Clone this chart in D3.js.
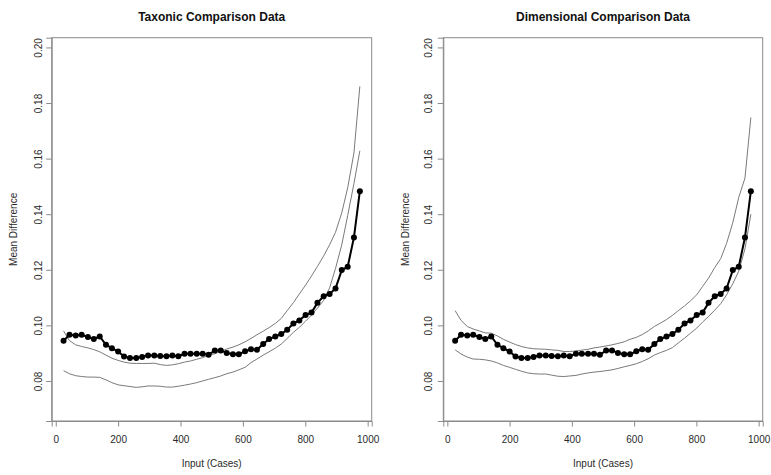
<!DOCTYPE html>
<html>
<head>
<meta charset="utf-8">
<script src="https://cdn.jsdelivr.net/npm/d3@7"></script>
<style>
  html, body { margin: 0; padding: 0; background: #fff; }
  svg { display: block; font-family: "Liberation Sans", Arial, Helvetica, sans-serif; }
</style>
</head>
<body>
<svg id="chart" width="771" height="475"></svg>
<script>
// ---- data ----
const xCases = [25,44,64,83,103,122,141,161,180,200,219,238,258,277,296,316,335,355,374,393,413,432,452,471,490,510,529,548,568,587,607,626,645,665,684,704,723,742,762,781,801,820,839,859,878,897,917,936,956,975];

const meanDiff = [0.0945,0.0966,0.0964,0.0966,0.0958,0.0951,0.0960,0.0930,0.0918,0.0906,0.0888,0.0883,0.0883,0.0886,0.0892,0.0892,0.0890,0.0889,0.0892,0.0889,0.0898,0.0898,0.0898,0.0898,0.0894,0.0910,0.0910,0.0901,0.0896,0.0896,0.0907,0.0914,0.0912,0.0933,0.0951,0.0960,0.0969,0.0984,0.1007,0.1018,0.1037,0.1046,0.1081,0.1105,0.1113,0.1133,0.1199,0.1211,0.1316,0.1483];

const taxonicUpper = [0.0980,0.0945,0.0930,0.0924,0.0919,0.0913,0.0905,0.0893,0.0882,0.0874,0.0868,0.0864,0.0863,0.0863,0.0863,0.0864,0.0859,0.0856,0.0858,0.0862,0.0868,0.0872,0.0878,0.0884,0.0892,0.0898,0.0906,0.0915,0.0922,0.0930,0.0941,0.0953,0.0966,0.0979,0.0992,0.1007,0.1025,0.1053,0.1082,0.1113,0.1145,0.1178,0.1212,0.1250,0.1290,0.1335,0.1405,0.1495,0.1620,0.1860];

const taxonicLower = [0.0837,0.0826,0.0819,0.0816,0.0814,0.0814,0.0813,0.0804,0.0794,0.0786,0.0783,0.0780,0.0777,0.0779,0.0782,0.0782,0.0781,0.0778,0.0778,0.0781,0.0785,0.0789,0.0794,0.0800,0.0806,0.0812,0.0818,0.0826,0.0832,0.0840,0.0849,0.0866,0.0879,0.0893,0.0905,0.0918,0.0933,0.0953,0.0975,0.0993,0.1015,0.1037,0.1062,0.1090,0.1135,0.1205,0.1290,0.1395,0.1510,0.1628];

const dimensionalUpper = [0.1053,0.1018,0.0996,0.0987,0.0980,0.0973,0.0972,0.0962,0.0950,0.0940,0.0931,0.0924,0.0919,0.0916,0.0915,0.0914,0.0912,0.0910,0.0906,0.0906,0.0908,0.0911,0.0914,0.0919,0.0922,0.0926,0.0930,0.0935,0.0941,0.0950,0.0957,0.0967,0.0980,0.0996,0.1008,0.1021,0.1036,0.1053,0.1070,0.1088,0.1110,0.1140,0.1170,0.1208,0.1240,0.1295,0.1370,0.1460,0.1530,0.1748];

const dimensionalLower = [0.0912,0.0897,0.0886,0.0879,0.0878,0.0876,0.0872,0.0865,0.0856,0.0849,0.0842,0.0835,0.0829,0.0826,0.0825,0.0825,0.0821,0.0817,0.0816,0.0818,0.0820,0.0825,0.0829,0.0832,0.0834,0.0837,0.0840,0.0845,0.0851,0.0856,0.0862,0.0870,0.0880,0.0893,0.0902,0.0910,0.0920,0.0937,0.0954,0.0972,0.0990,0.1012,0.1032,0.1055,0.1078,0.1110,0.1150,0.1195,0.1275,0.1400];

const xTicks = [0,200,400,600,800,1000];
const yTicks = [0.08,0.10,0.12,0.14,0.16,0.18,0.20];
const panelTitles = ["Taxonic Comparison Data","Dimensional Comparison Data"];
const xLabel = "Input (Cases)";
const yLabel = "Mean Difference";

// ---- layout ----
const panels = [
  { title: panelTitles[0], left: 51.7, right: 371.7, labOff: 9.5, upper: taxonicUpper, lower: taxonicLower },
  { title: panelTitles[1], left: 443.3, right: 762.7, labOff: 11.5, upper: dimensionalUpper, lower: dimensionalLower }
];
const plotTop = 37.7, plotBottom = 421;
const xDomain = [-13, 1013];
const yDomain = [0.0656, 0.2035];

const svg = d3.select("#chart");
const boxColor = "#8a8a8a";
const textColor = "#2a2a2a";

panels.forEach(p => {
  const x = d3.scaleLinear().domain(xDomain).range([p.left, p.right]);
  const y = d3.scaleLinear().domain(yDomain).range([plotBottom, plotTop]);
  const g = svg.append("g");

  // box
  g.append("rect")
    .attr("x", p.left).attr("y", plotTop)
    .attr("width", p.right - p.left).attr("height", plotBottom - plotTop)
    .attr("fill", "none").attr("stroke", boxColor).attr("stroke-width", 1);

  // x axis
  const xa = g.append("g").attr("transform", `translate(0,${plotBottom})`)
    .call(d3.axisBottom(x).tickValues(xTicks).tickSize(5.5).tickPadding(9).tickFormat(d3.format("d")));
  xa.select(".domain").attr("stroke", boxColor);
  xa.selectAll(".tick line").attr("stroke", boxColor);
  xa.selectAll(".tick text").attr("fill", textColor).attr("font-size", 10)
    .attr("font-family", "Liberation Sans, Arial, sans-serif");

  // y axis
  const ya = g.append("g").attr("transform", `translate(${p.left},0)`)
    .call(d3.axisLeft(y).tickValues(yTicks).tickSize(5.5).tickFormat(d3.format(".2f")));
  ya.select(".domain").attr("stroke", boxColor);
  ya.selectAll(".tick line").attr("stroke", boxColor);
  ya.selectAll(".tick text")
    .attr("fill", textColor).attr("font-size", 10)
    .attr("font-family", "Liberation Sans, Arial, sans-serif")
    .attr("x", null).attr("dy", null)
    .attr("text-anchor", "middle")
    .attr("transform", `translate(${-p.labOff},0) rotate(-90)`);

  // gray bound curves
  const line = d3.line().x((d, i) => x(xCases[i])).y(d => y(d));
  [p.upper, p.lower].forEach(arr => {
    g.append("path").datum(arr)
      .attr("d", line)
      .attr("fill", "none").attr("stroke", "#7a7a7a").attr("stroke-width", 1);
  });

  // main series
  g.append("path").datum(meanDiff)
    .attr("d", line)
    .attr("fill", "none").attr("stroke", "#000").attr("stroke-width", 2);
  g.selectAll("circle.pt").data(meanDiff).enter().append("circle")
    .attr("class", "pt")
    .attr("cx", (d, i) => x(xCases[i])).attr("cy", d => y(d))
    .attr("r", 3).attr("fill", "#000");

  // title
  g.append("text")
    .attr("x", (p.left + p.right) / 2).attr("y", 20.5)
    .attr("text-anchor", "middle").attr("font-weight", "bold").attr("font-size", 12)
    .attr("fill", "#111").text(p.title);

  // x label
  g.append("text")
    .attr("x", x(500)).attr("y", 467)
    .attr("text-anchor", "middle").attr("font-size", 10).attr("fill", textColor)
    .text(xLabel);

  // y label
  g.append("text")
    .attr("transform", `translate(${p.left - 34.5},${(plotTop + plotBottom) / 2}) rotate(-90)`)
    .attr("text-anchor", "middle").attr("font-size", 10).attr("fill", textColor)
    .text(yLabel);
});
</script>
</body>
</html>
